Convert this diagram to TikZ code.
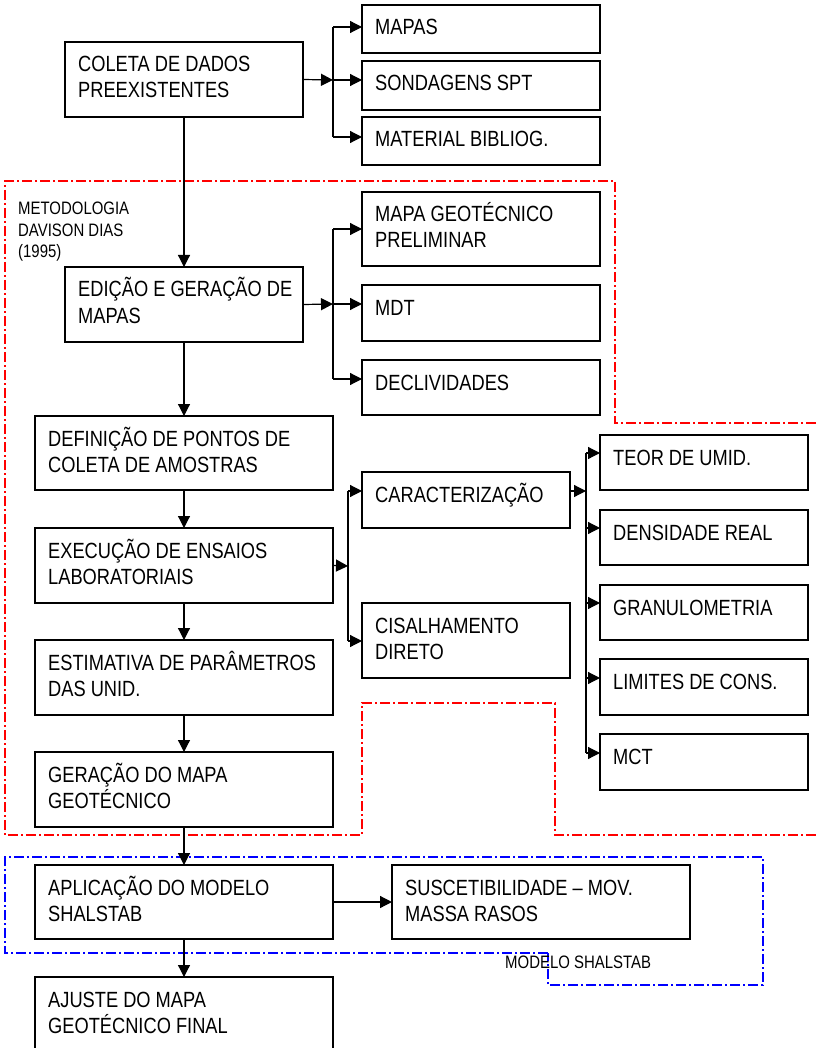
\documentclass[tikz,border=0pt]{standalone}
\usepackage{fontspec}
\setmainfont{Liberation Sans}[FakeStretch=0.83]
\usetikzlibrary{arrows.meta,calc}
\newcommand\lns[1]{\vtop{\halign{##\hfil\cr#1\crcr}}}
\newcommand\bx[6]{%
  \node[box,minimum width=#4,minimum height=#5] (#1) at (#2,#3) {};
  \node[txt] (#1t) at ($(#1.north west)+(13,30)$) {\lns{#6}};}
\begin{document}
\begin{tikzpicture}[x=1pt,y=-1pt,
  box/.style={draw,line width=1.3pt,rectangle,inner sep=0pt,outer sep=0pt,anchor=north west},
  txt/.style={anchor=base west,inner sep=0pt,font=\fontsize{22}{26}\selectfont},
  small/.style={anchor=base west,inner sep=0pt,font=\fontsize{18}{21.5}\selectfont},
  arr/.style={line width=1.2pt,-{Triangle[length=12pt,width=12pt]}},
  bus/.style={line width=2pt},
  redline/.style={draw=red,line width=1.2pt,dash pattern=on 10pt off 3pt on 2pt off 3pt},
  blueline/.style={draw=blue,line width=1.2pt,dash pattern=on 10pt off 3pt on 2pt off 3pt}]
\useasboundingbox (0,0) rectangle (816,1048);

% group outlines
\draw[redline] (816,423) -- (615,423) -- (615,181) -- (5,181) -- (5,835) -- (362,835)
  -- (362,703) -- (555,703) -- (555,835) -- (816,835);
\draw[blueline] (548,953) -- (5,953) -- (5,857) -- (763,857) -- (763,985) -- (548,985) -- cycle;
\node[small] (metod) at (18,215) {\lns{METODOLOGIA\cr DAVISON DIAS\cr (1995)}};
\node[small] (shal) at (505,968) {MODELO SHALSTAB};

% boxes
\bx{coleta}{65}{42}{238}{75}{COLETA DE DADOS\cr PREEXISTENTES}
\bx{mapas}{362}{5}{238}{48}{MAPAS}
\bx{sond}{362}{61}{238}{49}{SONDAGENS SPT}
\bx{mat}{362}{117}{238}{48}{MATERIAL BIBLIOG.}

\bx{edicao}{65}{267}{238}{75}{EDIÇÃO E GERAÇÃO DE\cr MAPAS}
\bx{mgp}{362}{192}{238}{74}{MAPA GEOTÉCNICO\cr PRELIMINAR}
\bx{mdt}{362}{285}{238}{56}{MDT}
\bx{decl}{362}{360}{238}{55}{DECLIVIDADES}

\bx{defin}{35}{416}{298}{74}{DEFINIÇÃO DE PONTOS DE\cr COLETA DE AMOSTRAS}
\bx{exec}{35}{528}{298}{75}{EXECUÇÃO DE ENSAIOS\cr LABORATORIAIS}
\bx{estim}{35}{640}{298}{75}{ESTIMATIVA DE PARÂMETROS\cr DAS UNID.}
\bx{gerac}{35}{752}{298}{75}{GERAÇÃO DO MAPA\cr GEOTÉCNICO}
\bx{aplic}{35}{865}{298}{74}{APLICAÇÃO DO MODELO\cr SHALSTAB}
\bx{ajuste}{35}{977}{298}{75}{AJUSTE DO MAPA\cr GEOTÉCNICO FINAL}

\bx{carac}{362}{472}{208}{56}{CARACTERIZAÇÃO}
\bx{cisal}{362}{603}{208}{75}{CISALHAMENTO\cr DIRETO}

\bx{teor}{600}{435}{208}{55}{TEOR DE UMID.}
\bx{dens}{600}{510}{208}{55}{DENSIDADE REAL}
\bx{gran}{600}{585}{208}{55}{GRANULOMETRIA}
\bx{lim}{600}{659}{208}{56}{LIMITES DE CONS.}
\bx{mct}{600}{734}{208}{56}{MCT}

\bx{susc}{392}{865}{298}{74}{SUSCETIBILIDADE – MOV.\cr MASSA RASOS}

% main vertical flow
\draw[arr] (coleta.south) -- (edicao.north);
\draw[arr] (edicao.south) -- (defin.north);
\draw[arr] (defin.south) -- (exec.north);
\draw[arr] (exec.south) -- (estim.north);
\draw[arr] (estim.south) -- (gerac.north);
\draw[arr] (gerac.south) -- (aplic.north);
\draw[arr] (aplic.south) -- (ajuste.north);
\draw[arr] (aplic.east) -- (susc.west);

% branch 1
\coordinate (j1) at (333,80);
\draw[arr] (coleta.east) -- (j1);
\draw[bus] (333,27) -- (333,137);
\coordinate (a1) at ($(mapas.north west)+(0,22)$);
\coordinate (a2) at ($(sond.north west)+(0,19)$);
\coordinate (a3) at ($(mat.north west)+(0,20)$);
\draw[arr] (j1 |- a1) -- (a1);
\draw[arr] (j1 |- a2) -- (a2);
\draw[arr] (j1 |- a3) -- (a3);

% branch 2
\coordinate (j2) at (333,304);
\draw[arr] (edicao.east) -- (j2);
\draw[bus] (333,229) -- (333,379);
\coordinate (b1) at ($(mgp.north west)+(0,37)$);
\coordinate (b2) at ($(mdt.north west)+(0,19)$);
\coordinate (b3) at ($(decl.north west)+(0,19)$);
\draw[arr] (j2 |- b1) -- (b1);
\draw[arr] (j2 |- b2) -- (b2);
\draw[arr] (j2 |- b3) -- (b3);

% branch 3
\coordinate (j3) at (348,566);
\draw[arr] (exec.east) -- (j3);
\draw[bus] (348,491) -- (348,641);
\coordinate (c1) at ($(carac.north west)+(0,19)$);
\coordinate (c2) at ($(cisal.north west)+(0,38)$);
\draw[arr] (j3 |- c1) -- (c1);
\draw[arr] (j3 |- c2) -- (c2);

% branch 4
\coordinate (j4) at (586,491);
\draw[arr] (c1 -| carac.east) -- (j4);
\draw[bus] (586,453) -- (586,753);
\coordinate (d1) at ($(teor.north west)+(0,18)$);
\coordinate (d2) at ($(dens.north west)+(0,18)$);
\coordinate (d3) at ($(gran.north west)+(0,18)$);
\coordinate (d4) at ($(lim.north west)+(0,19)$);
\coordinate (d5) at ($(mct.north west)+(0,19)$);
\draw[arr] (j4 |- d1) -- (d1);
\draw[arr] (j4 |- d2) -- (d2);
\draw[arr] (j4 |- d3) -- (d3);
\draw[arr] (j4 |- d4) -- (d4);
\draw[arr] (j4 |- d5) -- (d5);
\end{tikzpicture}
\end{document}
